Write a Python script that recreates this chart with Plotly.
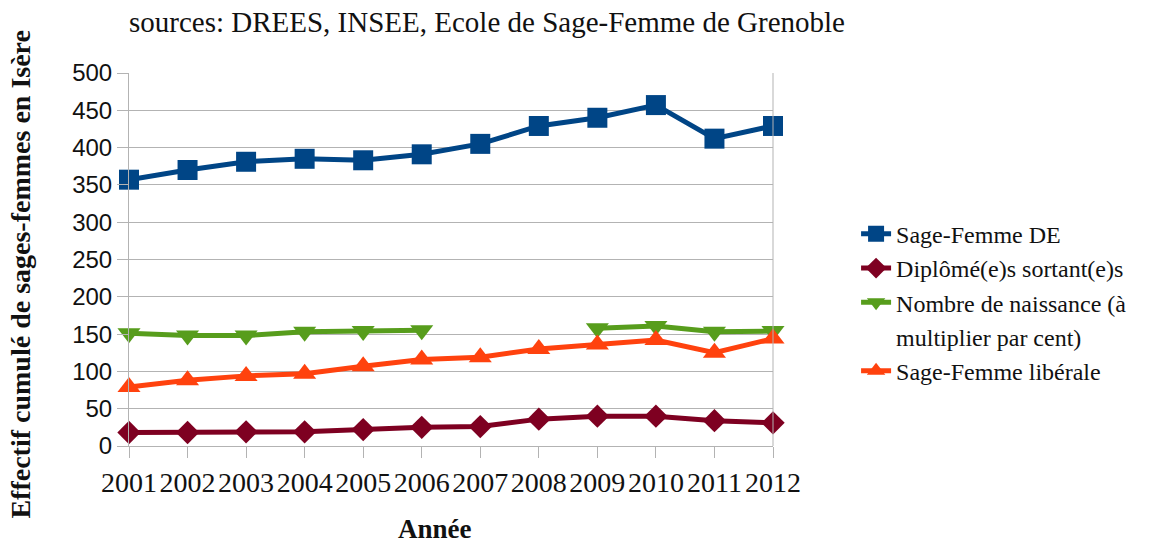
import plotly.graph_objects as go

years = [2001, 2002, 2003, 2004, 2005, 2006, 2007, 2008, 2009, 2010, 2011, 2012]
sage_femme_de = [357, 370, 381, 385, 383, 391, 405, 429, 440, 457, 412, 429]
diplomes = [18, 18, 19, 19, 22, 25, 26, 36, 40, 40, 34, 31]
naissances = [151, 148, 148, 153, 154, 155, None, None, 158, 161, 153, 154]
liberale = [79, 88, 94, 97, 107, 116, 119, 130, 136, 142, 125, 144]

names = ["Sage-Femme DE", "Diplômé(e)s sortant(e)s",
         "Nombre de naissance (à", "Sage-Femme libérale"]
name_continuation = "multiplier par cent)"
colors = ["#004586", "#7e0021", "#579d1c", "#ff420e"]
symbols = ["square", "diamond", "triangle-down", "triangle-up"]
sizes = [20, 18, 20, 20]
series = [sage_femme_de, diplomes, naissances, liberale]

fig = go.Figure()
for i, (nm, vals) in enumerate(zip(names, series)):
    fig.add_trace(go.Scatter(
        x=years, y=vals, name=nm, mode="lines+markers",
        line=dict(color=colors[i], width=5),
        marker=dict(symbol=symbols[i], size=sizes[i], color=colors[i]),
        connectgaps=False, cliponaxis=False, legendrank=i * 10,
    ))
    if i == 2:
        # second line of the wrapped legend label
        fig.add_trace(go.Scatter(
            x=[None], y=[None], name=name_continuation, mode="lines",
            line=dict(color="rgba(0,0,0,0)", width=0), hoverinfo="skip",
            legendrank=i * 10 + 5,
        ))

serif = "Liberation Serif"
fig.update_layout(
    width=1170, height=544,
    margin=dict(l=129, r=397, t=73, b=98, autoexpand=False),
    plot_bgcolor="white", paper_bgcolor="white",
    showlegend=True,
    legend=dict(x=1.129, y=0.628, xanchor="left", yanchor="top",
                font=dict(family=serif, size=24, color="#111"),
                tracegroupgap=0, itemwidth=30, bgcolor="rgba(0,0,0,0)"),
    xaxis=dict(range=[2001, 2012], tickmode="array", tickvals=years,
               ticktext=[str(y) for y in years],
               showgrid=False, ticks="outside", ticklen=11, tickcolor="#b3b3b3",
               showline=True, linecolor="#b3b3b3", linewidth=1, mirror=False,
               tickfont=dict(family=serif, size=28, color="#111"),
               zeroline=False),
    yaxis=dict(range=[0, 500], dtick=50, showgrid=True, gridcolor="#b3b3b3",
               ticks="outside", ticklen=11, tickcolor="#b3b3b3",
               showline=True, linecolor="#b3b3b3", linewidth=1,
               tickfont=dict(family="Liberation Sans", size=24, color="#111"),
               zeroline=False),
    shapes=[dict(type="line", xref="paper", yref="paper", x0=1, x1=1, y0=0, y1=1,
                 line=dict(color="#b3b3b3", width=1))],
    annotations=[
        dict(text="sources: DREES, INSEE, Ecole de Sage-Femme de Grenoble",
             xref="paper", yref="paper", x=-0.003, y=1.137, xanchor="left", yanchor="middle",
             showarrow=False, font=dict(family=serif, size=29, color="#111")),
        dict(text="<b>Effectif cumulé de sages-femmes en Isère</b>",
             xref="paper", yref="paper", x=-0.169, y=0.46, textangle=-90,
             xanchor="center", yanchor="middle", showarrow=False,
             font=dict(family=serif, size=28, color="#111")),
        dict(text="<b>Année</b>", xref="paper", yref="paper", x=0.475, y=-0.222,
             xanchor="center", yanchor="middle", showarrow=False,
             font=dict(family=serif, size=27, color="#111")),
    ],
)

fig.write_html("out.html", config={"displayModeBar": False},
               post_script="document.body.style.margin='0';")
